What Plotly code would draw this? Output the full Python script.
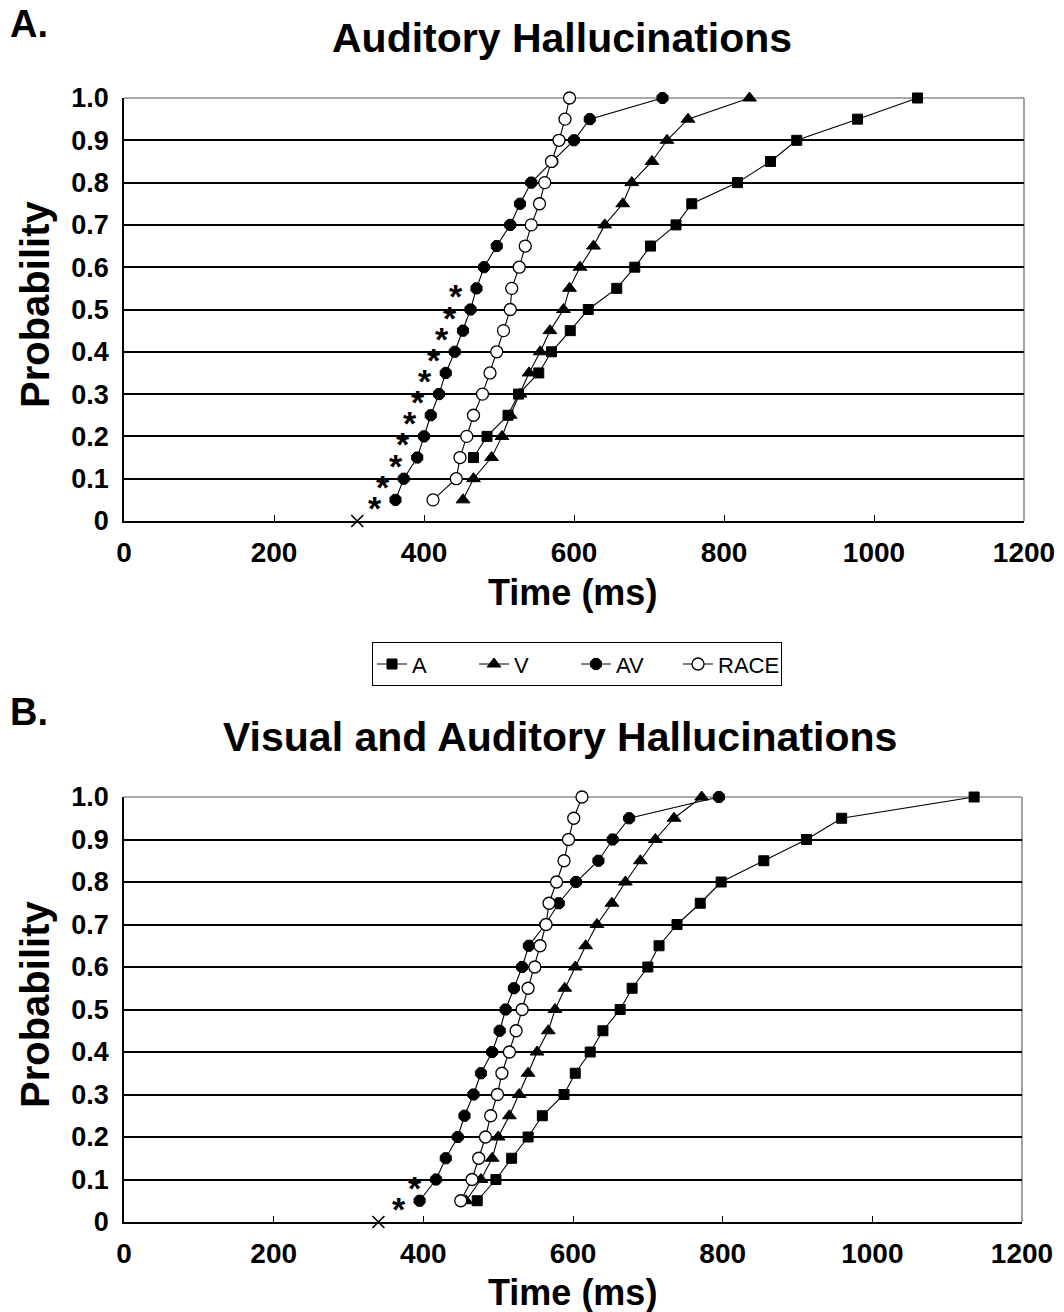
import plotly.graph_objects as go

W, H = 1064, 1312

# ---------------- data ----------------
prob = [0.05, 0.10, 0.15, 0.20, 0.25, 0.30, 0.35, 0.40, 0.45, 0.50,
        0.55, 0.60, 0.65, 0.70, 0.75, 0.80, 0.85, 0.90, 0.95, 1.00]
prob_a_from15 = [0.15, 0.20, 0.25, 0.30, 0.35, 0.40, 0.45, 0.50, 0.55,
                 0.60, 0.65, 0.70, 0.75, 0.80, 0.85, 0.90, 0.95, 1.00]

series_names = ["A", "V", "AV", "RACE"]

# Panel A: Auditory Hallucinations (ms)
audA_A = [466, 484, 512, 526, 553, 570, 595, 619, 657, 681, 702, 736, 757, 818, 862, 897, 978, 1058]
audA_V = [452, 466, 490, 504, 515, 528, 540, 555, 568, 586, 594, 608, 626, 641, 665, 677, 704, 724, 752, 834]
audA_AV = [362, 373, 391, 400, 409, 420, 429, 441, 452, 462, 470, 480, 497, 515, 528, 543, 571, 600, 621, 718]
audA_RACE = [412, 443, 448, 457, 466, 478, 488, 497, 506, 515, 517, 527, 535, 543, 554, 561, 570, 580, 588, 594]
audA_x_mark = [311]
audA_star_idx = [0, 1, 2, 3, 4, 5, 6, 7, 8, 9, 10]

# Panel B: Visual and Auditory Hallucinations (ms)
vaB_A = [472, 497, 518, 540, 559, 588, 603, 623, 640, 663, 679, 700, 715, 739, 770, 798, 855, 912, 959, 1136]
vaB_V = [457, 477, 492, 500, 515, 528, 540, 552, 567, 576, 589, 603, 617, 632, 652, 670, 690, 710, 735, 772]
vaB_AV = [395, 417, 430, 446, 455, 467, 477, 492, 502, 510, 521, 532, 541, 563, 581, 604, 634, 653, 675, 795]
vaB_RACE = [450, 465, 474, 483, 490, 499, 505, 515, 524, 532, 540, 549, 556, 564, 568, 578, 588, 594, 601, 612]
vaB_x_mark = [340]
vaB_star_idx = [0, 1]

y_tickvals = [0, 0.1, 0.2, 0.3, 0.4, 0.5, 0.6, 0.7, 0.8, 0.9, 1.0]
y_ticktext = ["0", "0.1", "0.2", "0.3", "0.4", "0.5", "0.6", "0.7", "0.8", "0.9", "1.0"]
y_gridvals = [0.1, 0.2, 0.3, 0.4, 0.5, 0.6, 0.7, 0.8, 0.9]
x_tickvals = [0, 200, 400, 600, 800, 1000, 1200]

# ---------------- styling ----------------
FONT = "Arial, 'Liberation Sans', sans-serif"
styles = {
    "A": dict(symbol="square", size=10, color="black", line=dict(color="black", width=1)),
    "V": dict(symbol="triangle-up", size=12, color="black", line=dict(color="black", width=1)),
    "AV": dict(symbol="octagon", size=12, color="black", line=dict(color="black", width=1)),
    "RACE": dict(symbol="circle", size=12, color="white", line=dict(color="black", width=1.3)),
}


def px(x):
    return x / W


def py(y):
    return 1 - y / H


fig = go.Figure()

panels = [
    ("x", "y", [prob_a_from15, prob, prob, prob], [audA_A, audA_V, audA_AV, audA_RACE],
     audA_x_mark, audA_star_idx, True),
    ("x2", "y2", [prob, prob, prob, prob], [vaB_A, vaB_V, vaB_AV, vaB_RACE],
     vaB_x_mark, vaB_star_idx, False),
]

annotations = []
for xa, ya, ys, xs, xmark, star_idx, show in panels:
    for name, yy, xx in zip(series_names, ys, xs):
        fig.add_trace(go.Scatter(
            x=xx, y=yy, mode="lines+markers", name=name,
            line=dict(color="black", width=1.1),
            marker=styles[name], xaxis=xa, yaxis=ya,
            showlegend=show, legendgroup=name, cliponaxis=False,
        ))
    fig.add_trace(go.Scatter(
        x=xmark, y=[0], mode="markers", showlegend=False,
        marker=dict(symbol="x-thin", size=12, line=dict(color="black", width=1.6)),
        xaxis=xa, yaxis=ya, cliponaxis=False,
    ))
    av = xs[2]
    for i in star_idx:
        annotations.append(dict(
            x=av[i], y=ys[2][i], xref=xa, yref=ya, text="<b>*</b>",
            showarrow=False, xshift=-21, yshift=-8,
            font=dict(family=FONT, size=34, color="black"),
        ))

# text annotations (titles, labels)
texts = [
    ("<b>A.</b>", 8, 24, 38, "left"),
    ("<b>Auditory Hallucinations</b>", 562, 38, 41, "center"),
    ("<b>Time (ms)</b>", 572, 592, 36, "center"),
    ("<b>B.</b>", 8, 712, 38, "left"),
    ("<b>Visual and Auditory Hallucinations</b>", 560, 737, 41, "center"),
    ("<b>Time (ms)</b>", 572, 1292, 36, "center"),
]
for t, x, y, s, anc in texts:
    annotations.append(dict(
        x=px(x), y=py(y), xref="paper", yref="paper", text=t, showarrow=False,
        xanchor=anc, yanchor="middle", font=dict(family=FONT, size=s, color="black"),
    ))
for y in (305, 1005):
    annotations.append(dict(
        x=px(35), y=py(y), xref="paper", yref="paper", text="<b>Probability</b>",
        showarrow=False, textangle=-90, xanchor="center", yanchor="middle",
        font=dict(family=FONT, size=40, color="black"),
    ))

xaxis_common = dict(
    range=[0, 1200], tickvals=x_tickvals, ticks="inside", ticklen=6, tickwidth=1.3,
    tickcolor="black", showline=True, linecolor="black", linewidth=1.6,
    showgrid=False, zeroline=False, ticklabelstandoff=6, automargin=False,
    tickfont=dict(family=FONT, size=28, color="black", weight="bold"),
)
yaxis_common = dict(
    range=[0, 1], tickvals=y_tickvals, ticktext=y_ticktext, ticks="",
    showline=True, linecolor="black", linewidth=1.6, automargin=False,
    showgrid=False, zeroline=False, ticklabelstandoff=8,
    minor=dict(tickvals=y_gridvals, showgrid=True, gridcolor="#000000", gridwidth=1.6, ticks=""),
    tickfont=dict(family=FONT, size=27, color="black", weight="bold"),
)

border_lines = []
for xr, yr in (("x domain", "y domain"), ("x2 domain", "y2 domain")):
    border_lines.append(dict(type="line", xref=xr, yref=yr, x0=0, x1=1, y0=1, y1=1,
                             line=dict(color="#8c8c8c", width=1.6), layer="below"))
    border_lines.append(dict(type="line", xref=xr, yref=yr, x0=1, x1=1, y0=0, y1=1,
                             line=dict(color="#8c8c8c", width=1.6), layer="below"))

fig.update_layout(
    width=W, height=H, margin=dict(l=0, r=0, t=0, b=0, autoexpand=False),
    paper_bgcolor="white", plot_bgcolor="white",
    xaxis=dict(domain=[px(124), px(1024)], anchor="y", **xaxis_common),
    yaxis=dict(domain=[py(521), py(98)], anchor="x", **yaxis_common),
    xaxis2=dict(domain=[px(124), px(1022)], anchor="y2", **xaxis_common),
    yaxis2=dict(domain=[py(1222), py(797)], anchor="x2", **yaxis_common),
    annotations=annotations,
    legend=dict(
        orientation="h", x=px(577), xanchor="center", y=py(642), yanchor="top",
        bordercolor="black", borderwidth=1.2, bgcolor="white",
        font=dict(family=FONT, size=22, color="black"), itemwidth=30,
        entrywidth=57, entrywidthmode="pixels",
    ),
    shapes=border_lines,
)

fig.write_html("out.html")
